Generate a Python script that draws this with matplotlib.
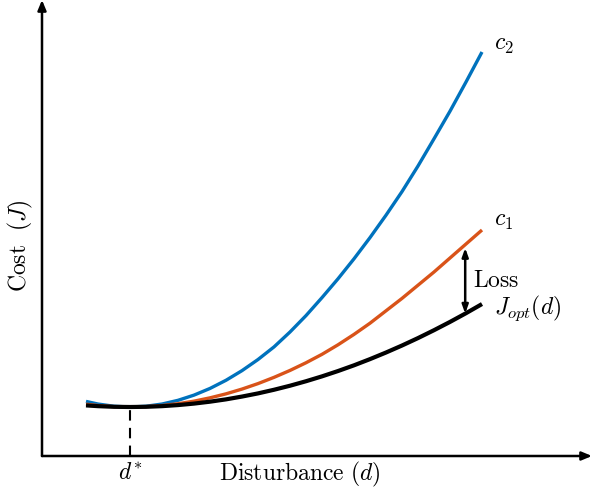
import matplotlib
matplotlib.use('Agg')
import matplotlib.pyplot as plt

plt.rcParams['mathtext.fontset'] = 'cm'

# disturbance grid (arbitrary units) and cost curves
d = [1.1, 1.4, 1.8, 2.2, 2.6, 3.0, 3.4, 3.8, 4.2, 4.6, 5.0, 5.4, 5.8,
     6.2, 6.6, 7.0, 7.4, 7.8, 8.2, 8.6, 9.0, 9.4, 9.8, 10.2, 10.6, 11.0]
J_opt = [1.265, 1.246, 1.230, 1.225, 1.230, 1.246, 1.273, 1.310, 1.358, 1.416, 1.486, 1.565, 1.656,
         1.757, 1.869, 1.991, 2.124, 2.267, 2.422, 2.587, 2.762, 2.948, 3.145, 3.352, 3.570, 3.799]
c1 = [1.294, 1.262, 1.234, 1.225, 1.234, 1.262, 1.307, 1.371, 1.454, 1.554, 1.673, 1.810, 1.966,
      2.139, 2.331, 2.542, 2.780, 3.040, 3.320, 3.630, 3.940, 4.270, 4.600, 4.950, 5.300, 5.650]
c2 = [1.365, 1.299, 1.244, 1.225, 1.244, 1.299, 1.392, 1.522, 1.689, 1.893, 2.134, 2.412, 2.727,
      3.100, 3.510, 3.960, 4.430, 4.930, 5.460, 6.020, 6.610, 7.250, 7.930, 8.620, 9.350, 10.100]

d_star = 2.2
J_min = 1.21
loss_d = 10.58
loss_top = 5.20
loss_bot = 3.56

BLUE = '#0072BD'
ORANGE = '#D95319'

fig = plt.figure(figsize=(5.93, 4.94), dpi=100)
ax = fig.add_axes([0, 0, 1, 1])
ax.set_xlim(-1.05, 13.775)
ax.set_ylim(-0.95, 11.4)
ax.axis('off')

# axes with arrow heads
head = '-|>,head_length=0.6,head_width=0.25'
ax.annotate('', xy=(13.75, 0), xytext=(0, 0),
            arrowprops=dict(arrowstyle=head, lw=1.8, color='k', shrinkA=0, shrinkB=0))
ax.annotate('', xy=(0, 11.4), xytext=(0, 0),
            arrowprops=dict(arrowstyle=head, lw=1.8, color='k', shrinkA=0, shrinkB=0))

ax.plot(d, c2, color=BLUE, lw=2.4, solid_capstyle='butt', solid_joinstyle='round')
ax.plot(d, c1, color=ORANGE, lw=2.4, solid_capstyle='butt', solid_joinstyle='round')
ax.plot(d, J_opt, color='k', lw=3.0, solid_capstyle='butt', solid_joinstyle='round')

# optimum marker
ax.plot([d_star, d_star], [0, J_min], color='k', lw=1.5, ls=(0, (5, 3.5)))

# loss arrow
ax.annotate('', xy=(loss_d, loss_top), xytext=(loss_d, loss_bot),
            arrowprops=dict(arrowstyle='<|-|>,head_length=0.5,head_width=0.18', lw=1.8, color='k',
                            shrinkA=0, shrinkB=0))

fs = 17
ax.text(d_star, -0.4, r'$d^{*}$', ha='center', va='center', fontsize=fs)
ax.text(6.45, -0.47, r'$\mathrm{Disturbance}\ (d)$', ha='center', va='center', fontsize=fs)
ax.text(-0.55, 5.25, r'$\mathrm{Cost}\ \ (J)$', ha='center', va='center', rotation=90, fontsize=fs)
ax.text(11.3, 10.3, r'$c_2$', ha='left', va='center', fontsize=fs)
ax.text(11.3, 5.9, r'$c_1$', ha='left', va='center', fontsize=fs)
ax.text(11.3, 3.7, r'$J_{opt}(d)$', ha='left', va='center', fontsize=fs)
ax.text(10.78, 4.4, r'$\mathrm{Loss}$', ha='left', va='center', fontsize=fs)

fig.savefig('out.png', dpi=100)
